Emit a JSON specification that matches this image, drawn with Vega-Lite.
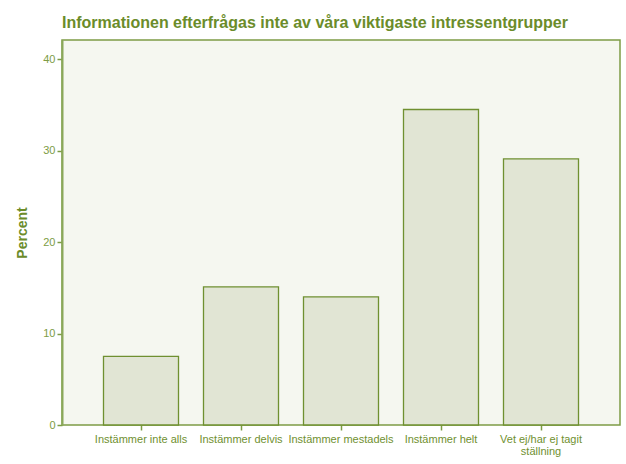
{
  "$schema": "https://vega.github.io/schema/vega-lite/v6.json",
  "autosize": {"type": "none"},
  "width": 558,
  "height": 385,
  "padding": {"left": 62, "top": 40, "right": 6, "bottom": 39},
  "background": "white",
  "title": {
    "text": "Informationen efterfrågas inte av våra viktigaste intressentgrupper",
    "anchor": "start",
    "frame": "group",
    "font": "Liberation Sans",
    "fontSize": 16,
    "fontWeight": "bold",
    "color": "#6b8c2a",
    "offset": 9
  },
  "config": {
    "view": {"fill": "#f5f7f0", "stroke": "#7d9c45", "strokeWidth": 1.5}
  },
  "data": {
    "values": [
      {"svar": "Instämmer inte alls", "percent": 7.5},
      {"svar": "Instämmer delvis", "percent": 15.1},
      {"svar": "Instämmer mestadels", "percent": 14.0},
      {"svar": "Instämmer helt", "percent": 34.5},
      {"svar": "Vet ej/har ej tagit ställning", "percent": 29.1}
    ]
  },
  "mark": {"type": "bar", "fill": "#e1e5d4", "stroke": "#6f9030", "strokeWidth": 1.3},
  "encoding": {
    "x": {
      "field": "svar",
      "type": "nominal",
      "sort": null,
      "title": null,
      "scale": {"paddingInner": 0.25, "paddingOuter": 0.415},
      "axis": {
        "labelAngle": 0,
        "labelFont": "Liberation Sans",
        "labelFontSize": 11,
        "labelColor": "#6f9030",
        "labelPadding": 3,
        "labelLineHeight": 12,
        "labelExpr": "datum.label == 'Vet ej/har ej tagit ställning' ? ['Vet ej/har ej tagit', 'ställning'] : datum.label",
        "domain": false,
        "tickColor": "#7d9c45",
        "tickSize": 5,
        "tickWidth": 1.5
      }
    },
    "y": {
      "field": "percent",
      "type": "quantitative",
      "title": "Percent",
      "scale": {"domain": [0, 42.1], "nice": false},
      "axis": {
        "values": [0, 10, 20, 30, 40],
        "grid": false,
        "titleFont": "Liberation Sans",
        "titleFontSize": 14,
        "titleFontWeight": "bold",
        "titleColor": "#6b8c2a",
        "titlePadding": 13,
        "labelFont": "Liberation Sans",
        "labelFontSize": 11,
        "labelColor": "#7d9c45",
        "labelPadding": 2,
        "domainColor": "#8aa85a",
        "domainWidth": 2,
        "tickColor": "#7d9c45",
        "tickSize": 5,
        "tickWidth": 1.5
      }
    }
  }
}
